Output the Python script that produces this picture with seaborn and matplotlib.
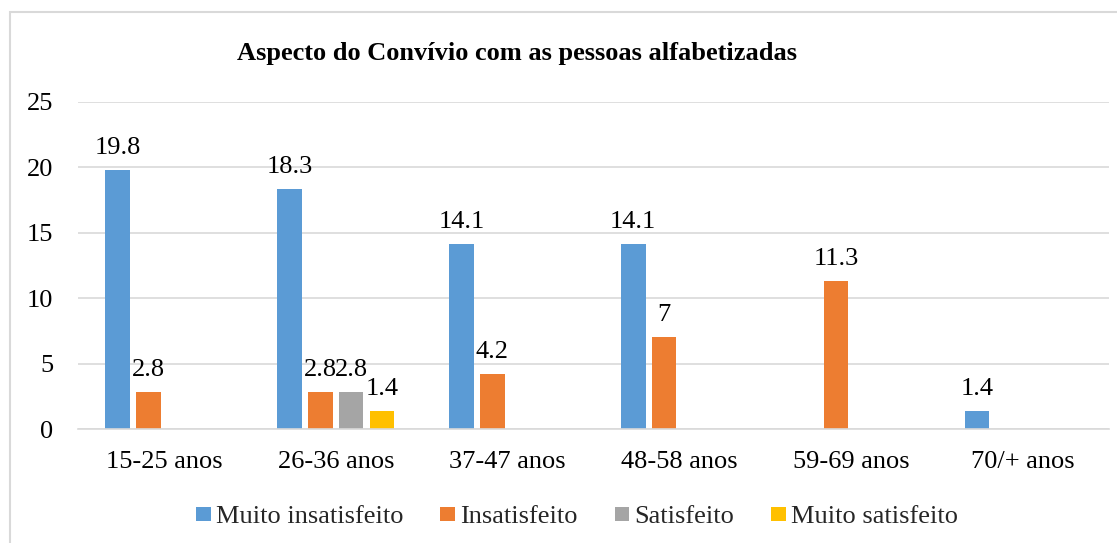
import matplotlib
matplotlib.use("Agg")
import matplotlib.pyplot as plt
from matplotlib.patches import Patch, Rectangle
import seaborn as sns
import pandas as pd

categories = ["15-25 anos", "26-36 anos", "37-47 anos", "48-58 anos", "59-69 anos", "70/+ anos"]
series = ["Muito insatisfeito", "Insatisfeito", "Satisfeito", "Muito satisfeito"]
muito_insatisfeito = [19.8, 18.3, 14.1, 14.1, 0, 1.4]
insatisfeito = [2.8, 2.8, 4.2, 7, 11.3, 0]
satisfeito = [0, 2.8, 0, 0, 0, 0]
muito_satisfeito = [0, 1.4, 0, 0, 0, 0]
yticks = [0, 5, 10, 15, 20, 25]
title = "Aspecto do Convívio com as pessoas alfabetizadas"
colors = ["#5B9BD5", "#ED7D31", "#A5A5A5", "#FFC000"]

values = [muito_insatisfeito, insatisfeito, satisfeito, muito_satisfeito]
rows = []
for s, vals in zip(series, values):
    for c, v in zip(categories, vals):
        rows.append({"Faixa": c, "Serie": s, "Valor": v})
df = pd.DataFrame(rows)

sns.set_theme(style="white")
plt.rcParams["font.family"] = ["Liberation Serif", "DejaVu Serif"]
FS = 19

fig = plt.figure(figsize=(11.17, 5.43), dpi=100)
ax = fig.add_axes([78 / 1117, 1 - 429 / 543, (1109 - 78) / 1117, (429 - 101.7) / 543])

sns.barplot(data=df, x="Faixa", y="Valor", hue="Serie", order=categories,
            hue_order=series, palette=colors, width=0.716, gap=0.2,
            linewidth=0, saturation=1, legend=False, errorbar=None, ax=ax)

for cont, vals in zip(ax.containers, values):
    labels = [f"{v:g}" if v else "" for v in vals]
    ax.bar_label(cont, labels=labels, padding=8, fontsize=FS, color="black")

ax.set_ylim(0, 25)
ax.set_xlim(-0.5, len(categories) - 0.5)
ax.set_yticks(yticks)
ax.set_yticklabels([str(t) for t in yticks])
ax.set_xlabel("")
ax.set_ylabel("")
ax.tick_params(axis="y", length=0, pad=18, labelsize=FS, colors="black")
ax.tick_params(axis="x", length=0, pad=15.5, labelsize=FS, colors="black")
ax.yaxis.grid(True, color="#d9d9d9", linewidth=1.2)
ax.set_axisbelow(True)
for side in ["top", "right", "left"]:
    ax.spines[side].set_visible(False)
ax.spines["bottom"].set_color("#d9d9d9")
ax.spines["bottom"].set_linewidth(1.2)

fig.text(517 / 1117, 1 - 60 / 543, title, ha="center", va="baseline",
         fontsize=FS, fontweight="bold", color="black")

handles = [Patch(facecolor=c, edgecolor="none", label=s) for c, s in zip(colors, series)]
fig.legend(handles=handles, loc="center", bbox_to_anchor=(577 / 1117, 1 - 517 / 543),
           ncol=4, frameon=False, fontsize=FS, handlelength=0.55, handleheight=0.45,
           handletextpad=0.2, columnspacing=1.4, borderaxespad=0, borderpad=0)

fig.patches.append(Rectangle((10 / 1117, -0.05), 1.2, 1 - 12 / 543 + 0.05,
                             transform=fig.transFigure, fill=False,
                             edgecolor="#d9d9d9", linewidth=1.5))

fig.savefig("out.png", dpi=100)
